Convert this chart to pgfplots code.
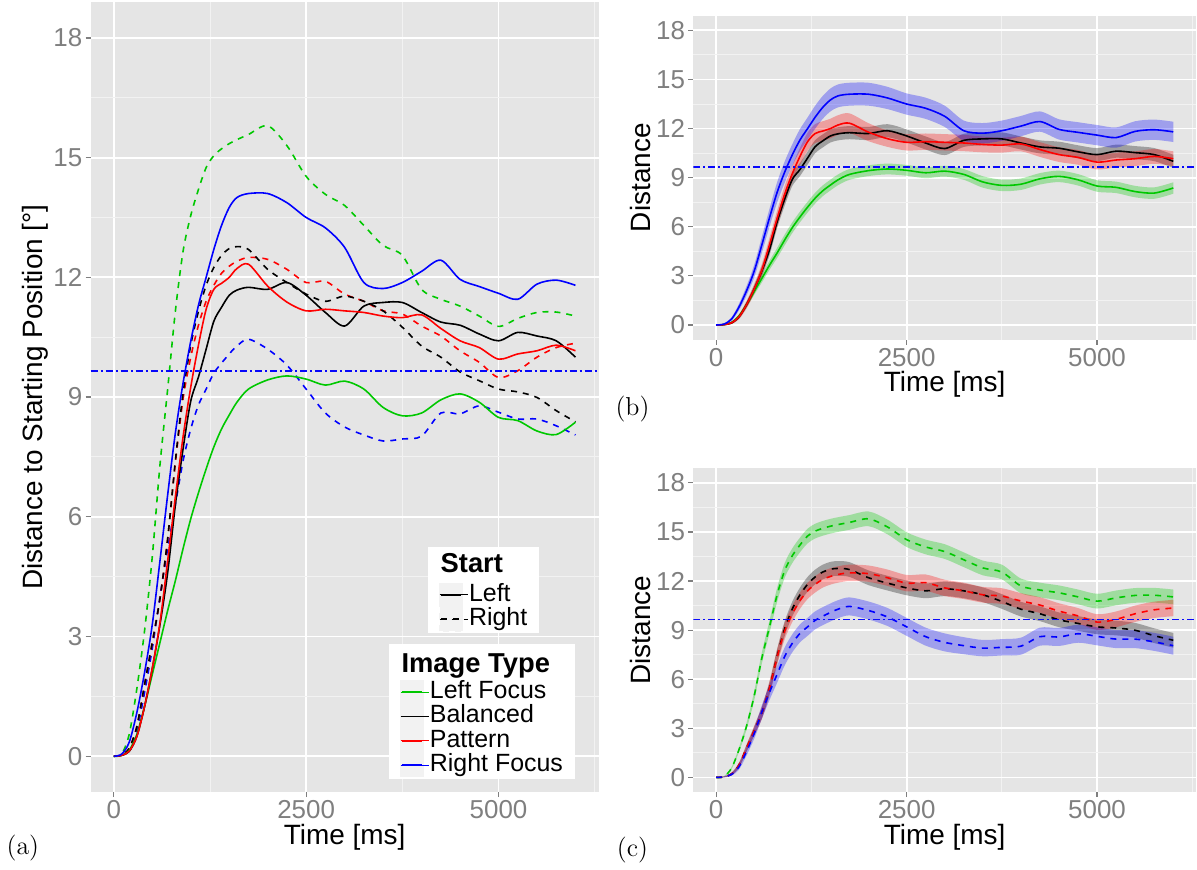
\documentclass[border=0pt]{standalone}
\usepackage{fontspec}
\setsansfont{Liberation Sans}
\usepackage{pgfplots}
\pgfplotsset{compat=1.18}
\usepackage{pgfplotstable}
\usepgfplotslibrary{fillbetween}

\definecolor{panelbg}{RGB}{229,229,229}
\definecolor{minorgrid}{RGB}{242,242,242}
\definecolor{tickgrey}{RGB}{127,127,127}
\definecolor{keybg}{RGB}{242,242,242}
\definecolor{ggreen}{RGB}{0,200,0}
\definecolor{gred}{RGB}{255,0,0}
\definecolor{gblue}{RGB}{0,0,255}
% one colour name per panel for the reference line
\definecolor{refa}{RGB}{6,6,250}
\definecolor{refb}{RGB}{8,8,251}
\definecolor{refc}{RGB}{10,10,252}

% mean distance per image type and start side; w* = half width of the ribbon
\pgfplotstableread{
t    gs    ks    rs    bs    gd    kd    rd    bd    wgs  wks  wrs  wbs  wgd  wkd  wrd  wbd
0    0     0     0     0     0     0     0     0     0    0    0    0    0    0    0    0
100  0.02  0.02  0.02  0.05  0.05  0.03  0.03  0.03  0.02 0.02 0.03 0.03 0.02 0.02 0.03 0.03
200  0.15  0.12  0.13  0.35  0.55  0.2   0.2   0.18  0.05 0.06 0.08 0.1  0.07 0.07 0.08 0.08
300  0.55  0.5   0.5   1.1   1.7   0.75  0.75  0.65  0.1  0.12 0.15 0.2  0.14 0.14 0.15 0.17
400  1.25  1.25  1.25  2.1   3.15  1.8   1.8   1.6   0.15 0.18 0.23 0.29 0.2  0.2  0.23 0.25
500  2.05  2.2   2.2   3.3   5.0   2.85  2.85  2.7   0.2  0.24 0.3  0.39 0.27 0.27 0.3  0.33
600  2.85  3.3   3.35  4.9   7.3   3.95  3.95  4.0   0.25 0.3  0.38 0.49 0.34 0.34 0.38 0.41
700  3.65  4.6   4.9   6.55  9.2   5.45  5.45  5.2   0.28 0.34 0.43 0.55 0.38 0.38 0.43 0.47
800  4.4   6.3   6.5   8.1   11.15 7.4   7.35  6.3   0.31 0.38 0.48 0.62 0.43 0.43 0.48 0.52
900  5.2   7.7   8.0   9.35  12.65 9.1   8.95  7.4   0.33 0.4  0.5  0.65 0.45 0.45 0.5  0.55
1000 5.95  8.9   9.25  10.4  13.55 10.3  10.0  8.2   0.33 0.4  0.5  0.65 0.45 0.45 0.5  0.55
1100 6.6   9.5   10.3  11.3  14.2  11.15 10.8  8.8   0.33 0.4  0.52 0.67 0.45 0.45 0.5  0.55
1200 7.2   10.2  11.2  12.0  14.75 11.8  11.4  9.2   0.33 0.4  0.55 0.68 0.45 0.45 0.5  0.55
1300 7.75  10.9  11.7  12.7  15.05 12.25 11.8  9.6   0.33 0.4  0.58 0.7  0.45 0.45 0.5  0.55
1400 8.2   11.25 11.85 13.3  15.22 12.55 12.1  9.85  0.33 0.4  0.6  0.7  0.45 0.45 0.5  0.55
1500 8.55  11.55 12.0  13.75 15.35 12.72 12.28 10.08 0.33 0.4  0.6  0.7  0.45 0.45 0.5  0.55
1600 8.87  11.68 12.22 14.0  15.45 12.77 12.4  10.28 0.33 0.4  0.6  0.7  0.45 0.45 0.5  0.55
1750 9.2   11.75 12.33 14.1  15.58 12.7  12.5  10.45 0.33 0.4  0.6  0.7  0.45 0.45 0.5  0.55
2000 9.43  11.7  11.78 14.1  15.8  12.2  12.45 10.2  0.33 0.4  0.55 0.7  0.45 0.45 0.5  0.55
2250 9.53  11.87 11.38 13.87 15.3  11.87 12.2  9.8   0.33 0.4  0.5  0.68 0.45 0.45 0.5  0.55
2500 9.45  11.55 11.16 13.5  14.53 11.58 11.87 9.2   0.33 0.4  0.5  0.65 0.45 0.45 0.5  0.55
2750 9.3   11.12 11.2  13.24 14.08 11.4  11.9  8.6   0.33 0.4  0.5  0.65 0.45 0.45 0.5  0.55
3000 9.4   10.78 11.16 12.75 13.8  11.53 11.58 8.25  0.33 0.4  0.5  0.65 0.45 0.45 0.5  0.55
3250 9.2   11.28 11.12 11.87 13.3  11.4  11.4  8.05  0.33 0.4  0.5  0.62 0.45 0.45 0.5  0.52
3500 8.74  11.37 11.03 11.72 12.8  11.16 11.16 7.9   0.35 0.4  0.48 0.62 0.45 0.45 0.48 0.5
3750 8.53  11.37 10.99 11.87 12.55 10.75 11.08 7.95  0.35 0.4  0.46 0.62 0.45 0.45 0.48 0.5
4000 8.6   11.12 11.06 12.15 11.7  10.28 10.78 8.02  0.35 0.4  0.45 0.62 0.45 0.45 0.48 0.52
4250 8.93  10.88 10.72 12.43 11.45 10.0  10.53 8.6   0.35 0.4  0.45 0.62 0.45 0.45 0.48 0.55
4500 9.08  10.8  10.41 11.95 11.28 9.63  10.16 8.58  0.35 0.4  0.45 0.62 0.45 0.45 0.48 0.55
4750 8.87  10.58 10.24 11.77 11.03 9.41  9.87  8.78  0.35 0.4  0.45 0.62 0.45 0.45 0.48 0.55
5000 8.49  10.41 9.95  11.6  10.77 9.2   9.49  8.62  0.35 0.4  0.45 0.62 0.45 0.45 0.48 0.55
5250 8.41  10.62 10.08 11.45 10.97 9.13  9.66  8.45  0.35 0.4  0.45 0.62 0.45 0.45 0.48 0.55
5500 8.15  10.53 10.16 11.83 11.12 8.99  10.0  8.45  0.35 0.4  0.45 0.62 0.45 0.45 0.5  0.55
5750 8.06  10.41 10.3  11.93 11.13 8.66  10.24 8.28  0.35 0.4  0.45 0.62 0.45 0.45 0.5  0.55
6000 8.37  10.0  10.16 11.8  11.03 8.38  10.35 8.05  0.35 0.4  0.45 0.62 0.45 0.45 0.5  0.55
}\curves

\pgfplotsset{
  ggpanel/.style={
    scale only axis,
    xmin=-300, xmax=6300, ymin=-0.9, ymax=18.9,
    xtick={0,2500,5000}, xticklabels={0,2500,5000},
    ytick={0,3,6,9,12,15,18}, yticklabels={0,3,6,9,12,15,18},
    minor xtick={1250,3750,6250},
    minor ytick={1.5,4.5,7.5,10.5,13.5,16.5},
    grid=both,
    major grid style={white, line width=0.9pt},
    minor grid style={minorgrid, line width=0.45pt},
    axis line style={draw=none},
    tick pos=left, tick align=outside,
    major tick length=2.5pt, minor tick length=0pt,
    tick style={tickgrey, line width=0.6pt},
    tick label style={font=\sffamily\fontsize{13}{13}\selectfont, text=tickgrey},
    xticklabel style={inner sep=1.5pt},
    yticklabel style={inner sep=1.5pt},
    label style={font=\sffamily\fontsize{14}{14}\selectfont},
    axis background/.style={fill=panelbg},
    xlabel={Time [ms]},
    xlabel style={yshift=2.5pt},
    ylabel shift=-2.5pt,
  },
  gline/.style={line width=0.8pt, smooth, forget plot},
  gdash/.style={dash pattern=on 3pt off 3pt},
  keyimg/.style={
    legend image code/.code={
      \fill[keybg] (0pt,-5.9pt) rectangle (11.5pt,5.9pt);
      \draw[##1, line width=0.8pt] (0.6pt,0pt) -- (10.9pt,0pt);
      \path (0pt,0pt) -- (14.2pt,0pt);
    },
  },
  ggleg/.style={
    keyimg,
    legend cell align=left,
    legend style={
      draw=none, fill=white, inner xsep=5.5pt, inner ysep=1pt,
      font=\sffamily\fontsize{12.5}{12.5}\selectfont,
      nodes={inner sep=0.3pt, text height=9pt, text depth=2.6pt},
    },
  },
}

\newcommand{\legtitle}[1]{\hspace*{-14.2pt}\fontsize{13.7}{14}\selectfont\bfseries #1}

% ribbon: #1 prefix, #2 mean column, #3 width column, #4 colour
\newcommand{\band}[4]{%
  \addplot[name path=#1u#2, draw=none, smooth, forget plot] table[x=t, y expr=\thisrow{#2}+\thisrow{#3}] {\curves};
  \addplot[name path=#1l#2, draw=none, smooth, forget plot] table[x=t, y expr=\thisrow{#2}-\thisrow{#3}] {\curves};
  \addplot[fill=#4, fill opacity=0.3, draw=none, forget plot] fill between[of=#1u#2 and #1l#2];
}

% horizontal reference level; #1 colour name
\newcommand{\refline}[1]{%
  \addplot[color=#1, line width=0.9pt, dash pattern=on 3.5pt off 1.5pt on 1pt off 1.5pt, forget plot]
    coordinates {(-300,9.65) (6300,9.65)};
}

\begin{document}
\begin{tikzpicture}

% (a) all eight curves
\begin{axis}[ggpanel, ggleg,
  at={(44.5pt,-397pt)}, anchor=south west,
  width=254.5pt, height=396pt,
  ylabel={Distance to Starting Position [°]},
  legend style={at={(0.587,0.188)}, anchor=north west},
]
\addplot[gline, gblue, gdash] table[x=t, y=bd] {\curves};
\addplot[gline, gred, gdash] table[x=t, y=rd] {\curves};
\addplot[gline, black, gdash] table[x=t, y=kd] {\curves};
\addplot[gline, ggreen, gdash] table[x=t, y=gd] {\curves};
\addplot[gline, ggreen] table[x=t, y=gs] {\curves};
\addplot[gline, black] table[x=t, y=ks] {\curves};
\addplot[gline, gred] table[x=t, y=rs] {\curves};
\addplot[gline, gblue] table[x=t, y=bs] {\curves};
\refline{refa}
\addlegendimage{empty legend}
\addlegendentry[text height=13pt, text depth=3.4pt]{\legtitle{Image Type}}
\addlegendimage{ggreen}
\addlegendentry{Left Focus}
\addlegendimage{black}
\addlegendentry{Balanced}
\addlegendimage{gred}
\addlegendentry{Pattern}
\addlegendimage{gblue}
\addlegendentry{Right Focus}
\end{axis}

% (a) second legend, on an empty overlay axis
\begin{axis}[ggleg, scale only axis,
  axis line style={draw=none}, xtick=\empty, ytick=\empty,
  at={(44.5pt,-397pt)}, anchor=south west,
  width=254.5pt, height=396pt,
  xmin=0, xmax=1, ymin=0, ymax=1,
  legend style={at={(0.664,0.311)}, anchor=north west},
]
\addplot[draw=none, forget plot] coordinates {(0,0) (1,1)};
\addlegendimage{empty legend}
\addlegendentry[text height=11.5pt, text depth=4.9pt]{\legtitle{Start}}
\addlegendimage{black}
\addlegendentry{Left}
\addlegendimage{black, gdash}
\addlegendentry{Right}
\end{axis}

% (b) start left
\begin{axis}[ggpanel,
  at={(346.5pt,-170.25pt)}, anchor=south west,
  width=252pt, height=162.4pt,
  ylabel={Distance},
]
\band{b}{gs}{wgs}{ggreen}
\band{b}{ks}{wks}{black}
\band{b}{rs}{wrs}{gred}
\band{b}{bs}{wbs}{gblue}
\addplot[gline, ggreen] table[x=t, y=gs] {\curves};
\addplot[gline, black] table[x=t, y=ks] {\curves};
\addplot[gline, gred] table[x=t, y=rs] {\curves};
\addplot[gline, gblue] table[x=t, y=bs] {\curves};
\refline{refb}
\end{axis}

% (c) start right
\begin{axis}[ggpanel,
  at={(346.5pt,-397pt)}, anchor=south west,
  width=252pt, height=162.4pt,
  ylabel={Distance},
]
\band{c}{gd}{wgd}{ggreen}
\band{c}{kd}{wkd}{black}
\band{c}{rd}{wrd}{gred}
\band{c}{bd}{wbd}{gblue}
\addplot[gline, ggreen, gdash] table[x=t, y=gd] {\curves};
\addplot[gline, black, gdash] table[x=t, y=kd] {\curves};
\addplot[gline, gred, gdash] table[x=t, y=rd] {\curves};
\addplot[gline, gblue, gdash] table[x=t, y=bd] {\curves};
\refline{refc}
\end{axis}

\node[font=\fontsize{13}{13}\selectfont] at (10.5pt,-425pt) {(a)};
\node[font=\fontsize{13}{13}\selectfont] at (316pt,-205pt) {(b)};
\node[font=\fontsize{13}{13}\selectfont] at (316pt,-426pt) {(c)};
\path (0pt,0pt) rectangle (598.5pt,-435.5pt);
\end{tikzpicture}
\end{document}
